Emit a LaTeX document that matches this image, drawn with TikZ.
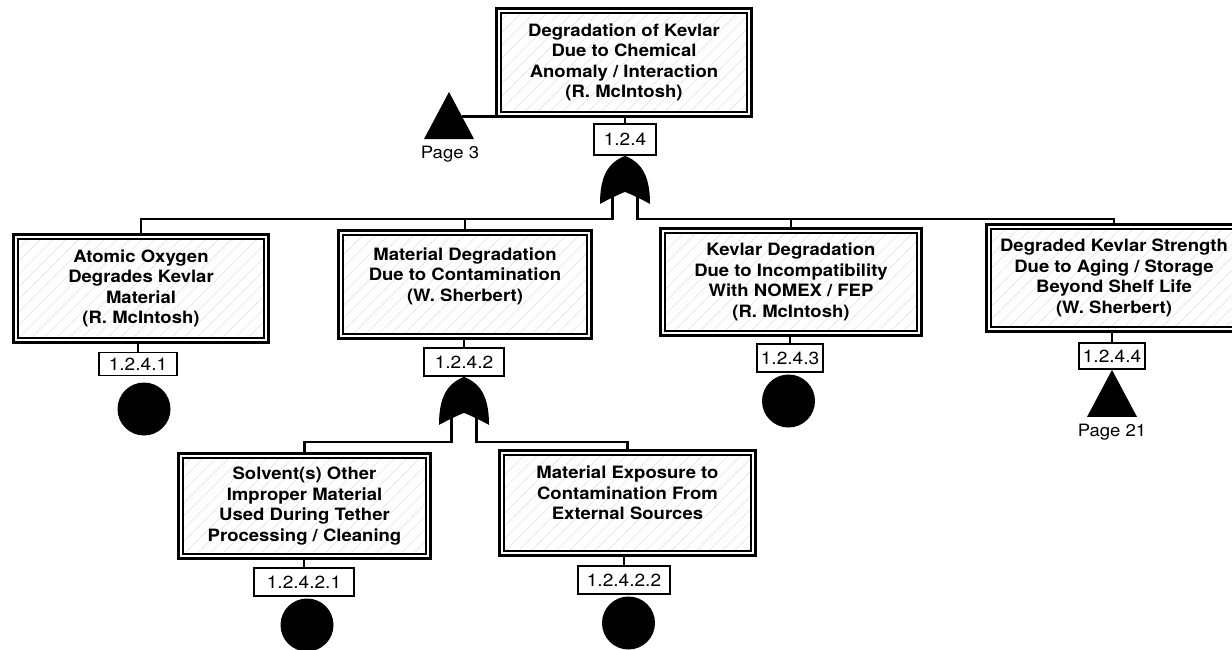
\documentclass[tikz,border=0pt]{standalone}
\usepackage{fontspec}
\setmainfont{TeX Gyre Heros}
\newfontfamily\ftafont[FakeStretch=1.09]{TeX Gyre Heros}
\usetikzlibrary{patterns.meta}

\begin{document}
\begin{tikzpicture}[x=1pt,y=-1pt,
  wire/.style={line width=2.8pt},
  event/.style={draw, line width=3pt, fill=white, align=center, inner sep=0pt,
    font=\ftafont\bfseries\fontsize{17}{20.5}\selectfont,
    path picture={
      \path[pattern={Lines[angle=45,distance=9pt,line width=0.35pt]}, pattern color=black!16]
        ([shift={(4.5pt,-4.5pt)}]path picture bounding box.north west) rectangle
        ([shift={(-4.5pt,4.5pt)}]path picture bounding box.south east);
      \draw[line width=1.8pt]
        ([shift={(4.5pt,-4.5pt)}]path picture bounding box.north west) rectangle
        ([shift={(-4.5pt,4.5pt)}]path picture bounding box.south east);
    }},
  tag/.style={draw, line width=1.8pt, fill=white, inner sep=0pt,
    font=\ftafont\fontsize{17.5}{20}\selectfont},
  basic/.style={circle, fill=black, minimum size=53pt, inner sep=0pt},
  pagetxt/.style={font=\ftafont\fontsize{17}{19}\selectfont},
  orgate/.pic={
    \fill (0,0) .. controls (-18,7) and (-25,22) .. (-25,48)
      .. controls (-14,42) and (-5,38) .. (0,36)
      .. controls (5,38) and (14,42) .. (25,48)
      .. controls (25,22) and (18,7) .. (0,0) -- cycle;
    \coordinate (-l) at (-12.5,40);
    \coordinate (-r) at (12.5,40);
  },
  transfer/.pic={
    \fill (0,0) -- (25,47) -- (-25,47) -- cycle;
    \coordinate (-r) at (13,24.5);
  }
]
\useasboundingbox (0,0) rectangle (1232,649);
\clip (0,0) rectangle (1232,649);

% bus levels
\coordinate (busA) at (0,219);
\coordinate (busB) at (0,442);

% top event and its transfer
\node[event, minimum width=255pt, minimum height=108pt] (top) at (624,62.5)
  {Degradation of Kevlar\\Due to Chemical\\Anomaly / Interaction\\(R. McIntosh)};
\node[tag, minimum width=62pt, minimum height=31pt] (l0) at (625,139.5) {1.2.4};
\pic (t0) at (449,92) {transfer};
\node[pagetxt] (p3) at (450,154) {Page 3};
\pic (g1) at (l0.south) {orgate};

% second level events
\node[event, minimum width=255pt, minimum height=108pt] (e1) at (141,288.5)
  {Atomic Oxygen\\Degrades Kevlar\\Material\\(R. McIntosh)};
\node[event, minimum width=253pt, minimum height=108pt] (e2) at (465,284.5)
  {Material Degradation\\Due to Contamination\\(W. Sherbert)\\\mbox{}};
\node[event, minimum width=261pt, minimum height=107pt] (e3) at (791,282)
  {Kevlar Degradation\\Due to Incompatibility\\With NOMEX / FEP\\(R. McIntosh)};
\node[event, minimum width=255pt, minimum height=107pt] (e4) at (1114,278)
  {Degraded Kevlar Strength\\Due to Aging / Storage\\Beyond Shelf Life\\(W. Sherbert)};

\node[tag, minimum width=78pt, minimum height=23pt] (l1) at (138,364) {1.2.4.1};
\node[tag, minimum width=80pt, minimum height=28pt] (l2) at (464,362) {1.2.4.2};
\node[tag, minimum width=66pt, minimum height=28pt] (l3) at (790,358) {1.2.4.3};
\node[tag, minimum width=66pt, minimum height=26pt] (l4) at (1112,356) {1.2.4.4};

\node[basic] (c1) at (144,409) {};
\node[basic] (c3) at (788.5,401) {};
\pic (t4) at (l4.south) {transfer};
\node[pagetxt] (p21) at (1112,432) {Page 21};
\pic (g2) at (l2.south) {orgate};

% third level events
\node[event, minimum width=252pt, minimum height=105pt] (e5) at (304.5,506)
  {Solvent(s) Other\\Improper Material\\Used During Tether\\Processing / Cleaning};
\node[event, minimum width=256pt, minimum height=105pt] (e6) at (627.5,503)
  {Material Exposure to\\Contamination From\\External Sources\\\mbox{}};
\node[tag, minimum width=100pt, minimum height=28pt] (l5) at (304,582) {1.2.4.2.1};
\node[tag, minimum width=92pt, minimum height=28pt] (l6) at (624,580) {1.2.4.2.2};
\node[basic] (c5) at (307,625) {};
\node[basic] (c6) at (628.5,623) {};

% connectors
\draw[wire] (t0-r) -- (t0-r -| top.west);
\draw[wire] (top.south -| l0.north) -- (l0.north);
\draw[wire] (g1-l) -- (g1-l |- busA) -| (e1.north);
\draw[wire] (g1-l |- busA) -| (e2.north);
\draw[wire] (g1-r) -- (g1-r |- busA) -| (e4.north);
\draw[wire] (g1-r |- busA) -| (e3.north);
\draw[wire] (e1.south -| l1.north) -- (l1.north);
\draw[wire] (e2.south -| l2.north) -- (l2.north);
\draw[wire] (e3.south -| l3.north) -- (l3.north);
\draw[wire] (e4.south -| l4.north) -- (l4.north);
\draw[wire] (g2-l) -- (g2-l |- busB) -| (e5.north);
\draw[wire] (g2-r) -- (g2-r |- busB) -| (e6.north);
\draw[wire] (e5.south -| l5.north) -- (l5.north);
\draw[wire] (e6.south -| l6.north) -- (l6.north);
\end{tikzpicture}
\end{document}
